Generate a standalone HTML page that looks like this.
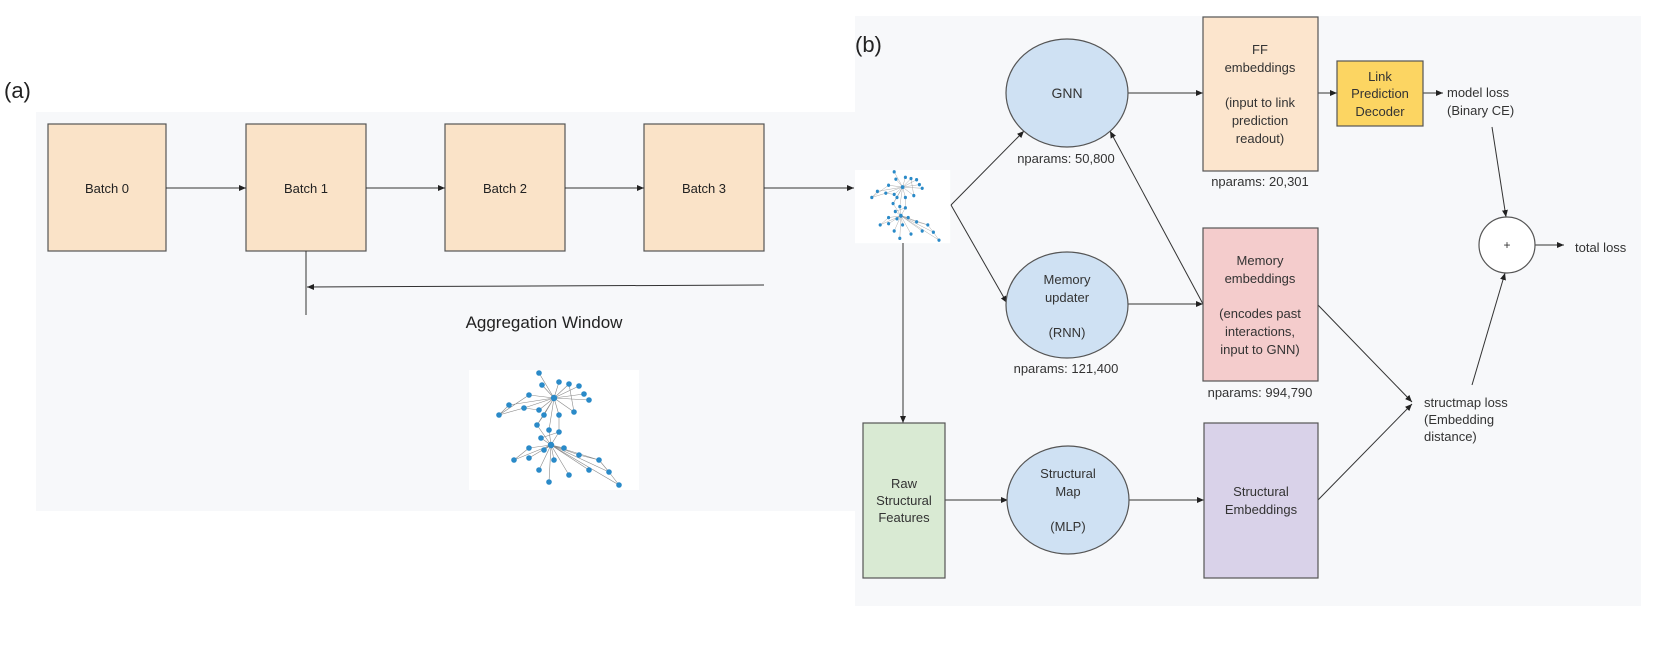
<!DOCTYPE html>
<html><head><meta charset="utf-8"><style>
html,body{margin:0;padding:0;background:#fff;}
svg{display:block;font-family:"Liberation Sans",Arial,sans-serif;}
</style></head><body>
<svg width="1661" height="653" viewBox="0 0 1661 653" xmlns="http://www.w3.org/2000/svg">
<defs>
<marker id="ah" markerWidth="8" markerHeight="8" refX="7" refY="4" orient="auto" markerUnits="userSpaceOnUse">
<path d="M0,1 L7,4 L0,7 Z" fill="#222"/></marker>
<g id="graph">
<rect x="0" y="0" width="170" height="120" fill="#fff"/>
<g stroke="#888" stroke-width="0.6">
<path d="M85,28 L70,3 M85,28 L73,15 M85,28 L90,12 M85,28 L100,14 M85,28 L110,16 M85,28 L115,24 M85,28 L120,30 M85,28 L60,25 M85,28 L40,35 M85,28 L55,38 M85,28 L70,40 M85,28 L75,45 M85,28 L90,45 M85,28 L105,42 M85,28 L68,55 M85,28 L80,60 M60,25 L30,45 M40,35 L30,45 M30,45 L55,38 M55,38 L70,40 M68,55 L75,45 M82,75 L68,55 M82,75 L80,60 M82,75 L90,62 M82,75 L72,68 M82,75 L60,78 M82,75 L75,80 M82,75 L95,78 M82,75 L45,90 M82,75 L60,88 M82,75 L85,90 M82,75 L110,85 M82,75 L130,90 M82,75 L120,100 M82,75 L140,102 M82,75 L150,115 M82,75 L80,112 M82,75 L100,105 M82,75 L70,100 M110,85 L130,90 M130,90 L140,102 M140,102 L150,115 M90,45 L90,62 M72,68 L90,62 M60,78 L45,90 M100,14 L105,42"/>
</g>
<g fill="#2a8ac8">
<circle cx="85" cy="28" r="3.2"/><circle cx="82" cy="75" r="3.2"/>
<circle cx="70" cy="3" r="2.8"/><circle cx="73" cy="15" r="2.8"/><circle cx="90" cy="12" r="2.8"/><circle cx="100" cy="14" r="2.8"/><circle cx="110" cy="16" r="2.8"/><circle cx="115" cy="24" r="2.8"/><circle cx="120" cy="30" r="2.8"/><circle cx="60" cy="25" r="2.8"/><circle cx="40" cy="35" r="2.8"/><circle cx="30" cy="45" r="2.8"/><circle cx="55" cy="38" r="2.8"/><circle cx="70" cy="40" r="2.8"/><circle cx="75" cy="45" r="2.8"/><circle cx="90" cy="45" r="2.8"/><circle cx="105" cy="42" r="2.8"/><circle cx="68" cy="55" r="2.8"/><circle cx="80" cy="60" r="2.8"/><circle cx="90" cy="62" r="2.8"/><circle cx="72" cy="68" r="2.8"/><circle cx="60" cy="78" r="2.8"/><circle cx="75" cy="80" r="2.8"/><circle cx="95" cy="78" r="2.8"/><circle cx="45" cy="90" r="2.8"/><circle cx="60" cy="88" r="2.8"/><circle cx="85" cy="90" r="2.8"/><circle cx="110" cy="85" r="2.8"/><circle cx="130" cy="90" r="2.8"/><circle cx="120" cy="100" r="2.8"/><circle cx="140" cy="102" r="2.8"/><circle cx="150" cy="115" r="2.8"/><circle cx="80" cy="112" r="2.8"/><circle cx="100" cy="105" r="2.8"/><circle cx="70" cy="100" r="2.8"/>
</g>
</g>
</defs>

<!-- backgrounds -->
<rect x="36" y="112" width="820" height="399" fill="#f7f8fa"/>
<rect x="855" y="16" width="786" height="590" fill="#f7f8fa"/>

<text x="4" y="98" font-size="22" fill="#222">(a)</text>
<text x="855" y="52" font-size="22" fill="#222">(b)</text>

<!-- panel a -->
<g stroke="#555" stroke-width="1.2" fill="#fae3c8">
<rect x="48" y="124" width="118" height="127"/>
<rect x="246" y="124" width="120" height="127"/>
<rect x="445" y="124" width="120" height="127"/>
<rect x="644" y="124" width="120" height="127"/>
</g>
<g font-size="13" fill="#222" text-anchor="middle">
<text x="107" y="193">Batch 0</text>
<text x="306" y="193">Batch 1</text>
<text x="505" y="193">Batch 2</text>
<text x="704" y="193">Batch 3</text>
</g>
<g stroke="#333" stroke-width="1" fill="none" marker-end="url(#ah)">
<line x1="166" y1="188" x2="246" y2="188"/>
<line x1="366" y1="188" x2="445" y2="188"/>
<line x1="565" y1="188" x2="644" y2="188"/>
<line x1="764" y1="188" x2="854" y2="188"/>
<line x1="764" y1="285" x2="307" y2="287"/>
</g>
<line x1="306" y1="251" x2="306" y2="315" stroke="#333" stroke-width="1"/>
<text x="544" y="328" font-size="17" fill="#222" text-anchor="middle">Aggregation Window</text>
<use href="#graph" transform="translate(469,370) scale(1.0,1.0)"/>

<!-- panel b -->
<use href="#graph" transform="translate(855,170) scale(0.56,0.61)"/>
<g stroke="#333" stroke-width="1" fill="none">
<line x1="903" y1="243" x2="903" y2="423" marker-end="url(#ah)"/>
<polyline points="951,205 1024,131" marker-end="url(#ah)"/>
<polyline points="951,205 1007,303" marker-end="url(#ah)"/>
<line x1="1128" y1="93" x2="1203" y2="93" marker-end="url(#ah)"/>
<line x1="1128" y1="304" x2="1203" y2="304" marker-end="url(#ah)"/>
<line x1="1203" y1="304" x2="1110" y2="131" marker-end="url(#ah)"/>
<line x1="1318" y1="93" x2="1337" y2="93" marker-end="url(#ah)"/>
<line x1="1423" y1="93" x2="1443" y2="93" marker-end="url(#ah)"/>
<line x1="1492" y1="127" x2="1506" y2="217" marker-end="url(#ah)"/>
<line x1="1472" y1="385" x2="1505" y2="273" marker-end="url(#ah)"/>
<line x1="1535" y1="245" x2="1564" y2="245" marker-end="url(#ah)"/>
<line x1="1318" y1="305" x2="1412" y2="402" marker-end="url(#ah)"/>
<line x1="1318" y1="500" x2="1412" y2="404" marker-end="url(#ah)"/>
<line x1="945" y1="500" x2="1008" y2="500" marker-end="url(#ah)"/>
<line x1="1129" y1="500" x2="1204" y2="500" marker-end="url(#ah)"/>
</g>

<g stroke="#555" stroke-width="1.2">
<ellipse cx="1067" cy="93" rx="61" ry="54" fill="#cfe1f3"/>
<ellipse cx="1067" cy="305" rx="61" ry="53" fill="#cfe1f3"/>
<ellipse cx="1068" cy="500" rx="61" ry="54" fill="#cfe1f3"/>
<rect x="1203" y="17" width="115" height="154" fill="#fce5cd"/>
<rect x="1337" y="61" width="86" height="65" fill="#fcd562"/>
<rect x="1203" y="228" width="115" height="153" fill="#f4cccc"/>
<rect x="863" y="423" width="82" height="155" fill="#d9ead3"/>
<rect x="1204" y="423" width="114" height="155" fill="#d9d2e9"/>
<circle cx="1507" cy="245" r="28" fill="#fff"/>
</g>

<g font-size="13" fill="#333" text-anchor="middle">
<text x="1067" y="98" font-size="14">GNN</text>
<text x="1066" y="163">nparams: 50,800</text>
<text x="1067" y="284">Memory</text>
<text x="1067" y="302">updater</text>
<text x="1067" y="337">(RNN)</text>
<text x="1066" y="373">nparams: 121,400</text>
<text x="1068" y="478">Structural</text>
<text x="1068" y="496">Map</text>
<text x="1068" y="531">(MLP)</text>
<text x="1260" y="54">FF</text>
<text x="1260" y="72">embeddings</text>
<text x="1260" y="107">(input to link</text>
<text x="1260" y="125">prediction</text>
<text x="1260" y="143">readout)</text>
<text x="1260" y="186">nparams: 20,301</text>
<text x="1380" y="81">Link</text>
<text x="1380" y="98">Prediction</text>
<text x="1380" y="116">Decoder</text>
<text x="1260" y="265">Memory</text>
<text x="1260" y="283">embeddings</text>
<text x="1260" y="318">(encodes past</text>
<text x="1260" y="336">interactions,</text>
<text x="1260" y="354">input to GNN)</text>
<text x="1260" y="397">nparams: 994,790</text>
<text x="904" y="488">Raw</text>
<text x="904" y="505">Structural</text>
<text x="904" y="522">Features</text>
<text x="1261" y="496">Structural</text>
<text x="1261" y="514">Embeddings</text>
<text x="1507" y="249" font-size="12">+</text>
</g>
<g font-size="13" fill="#333">
<text x="1447" y="97">model loss</text>
<text x="1447" y="115">(Binary CE)</text>
<text x="1575" y="252">total loss</text>
<text x="1424" y="407">structmap loss</text>
<text x="1424" y="424">(Embedding</text>
<text x="1424" y="441">distance)</text>
</g>
</svg>
</body></html>
